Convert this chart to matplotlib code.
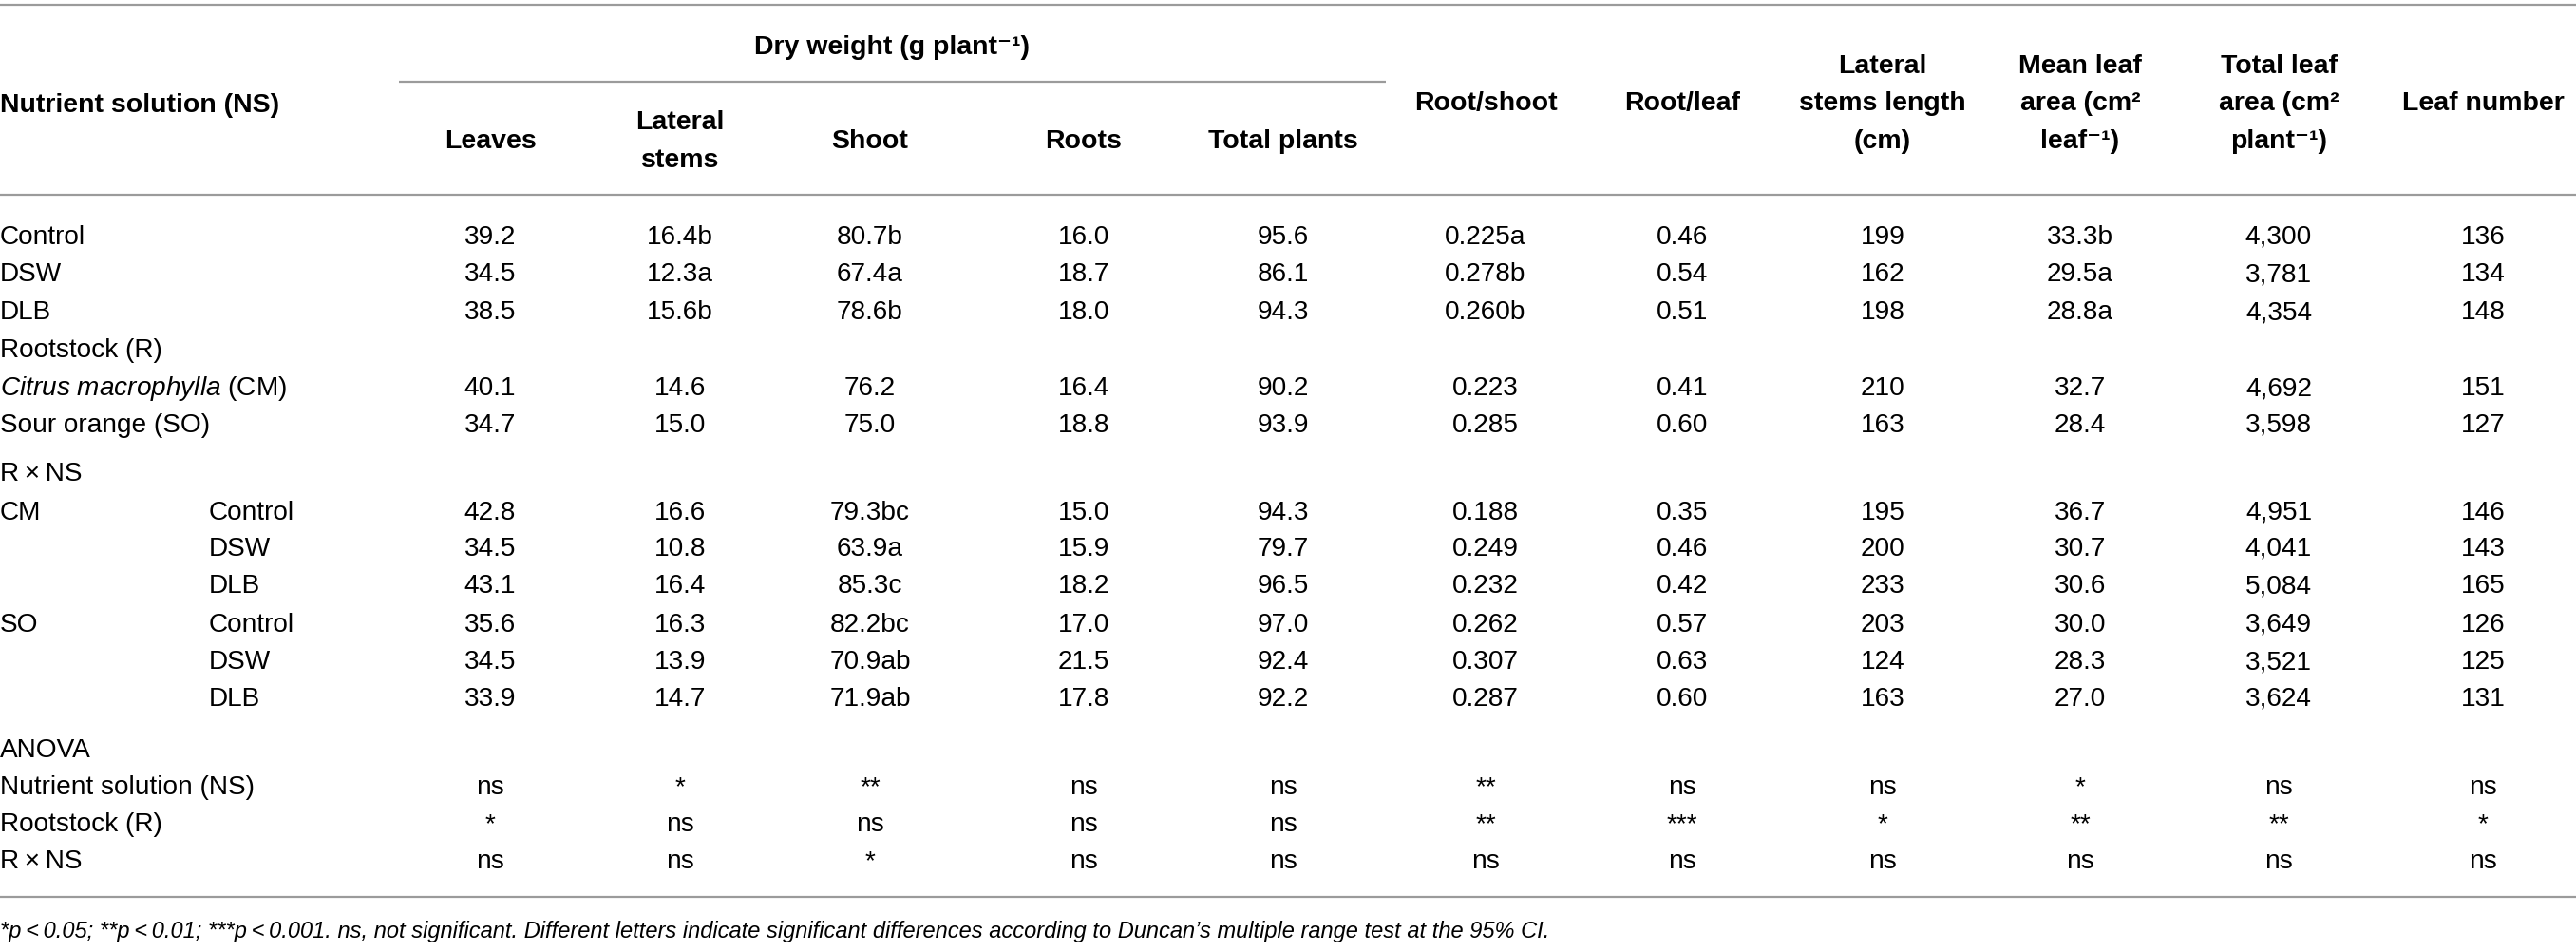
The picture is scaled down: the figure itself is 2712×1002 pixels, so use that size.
import matplotlib
matplotlib.use("Agg")
import matplotlib.pyplot as plt

plt.rcParams['font.family'] = ['Liberation Sans', 'DejaVu Sans']
plt.rcParams['mathtext.fontset'] = 'custom'
plt.rcParams['mathtext.rm'] = 'Liberation Sans'
plt.rcParams['mathtext.it'] = 'Liberation Sans:italic'
plt.rcParams['mathtext.bf'] = 'Liberation Sans:bold'

# ---------------- data ----------------
group_header = "Dry weight (g plant\u207b\u00b9)"
row_header = "Nutrient solution (NS)"
col_headers = [
    ["Leaves"],
    ["Lateral", "stems"],
    ["Shoot"],
    ["Roots"],
    ["Total plants"],
    ["Root/shoot"],
    ["Root/leaf"],
    ["Lateral", "stems length", "(cm)"],
    ["Mean leaf", "area (cm\u00b2", "leaf\u207b\u00b9)"],
    ["Total leaf", "area (cm\u00b2", "plant\u207b\u00b9)"],
    ["Leaf number"],
]

row_labels = ["Control", "DSW", "DLB", "Rootstock (R)",
              r"$\it{Citrus\ macrophylla}$ (CM)", "Sour orange (SO)",
              "R\u2009\u00d7\u2009NS", "CM", "", "", "SO", "", "",
              "ANOVA", "Nutrient solution (NS)", "Rootstock (R)",
              "R\u2009\u00d7\u2009NS"]
row_sublabels = ["", "", "", "", "", "", "",
                 "Control", "DSW", "DLB", "Control", "DSW", "DLB",
                 "", "", "", ""]

leaves   = ["39.2", "34.5", "38.5", "", "40.1", "34.7", "", "42.8", "34.5", "43.1", "35.6", "34.5", "33.9", "", "ns", "*", "ns"]
lat_stem = ["16.4b", "12.3a", "15.6b", "", "14.6", "15.0", "", "16.6", "10.8", "16.4", "16.3", "13.9", "14.7", "", "*", "ns", "ns"]
shoot    = ["80.7b", "67.4a", "78.6b", "", "76.2", "75.0", "", "79.3bc", "63.9a", "85.3c", "82.2bc", "70.9ab", "71.9ab", "", "**", "ns", "*"]
roots    = ["16.0", "18.7", "18.0", "", "16.4", "18.8", "", "15.0", "15.9", "18.2", "17.0", "21.5", "17.8", "", "ns", "ns", "ns"]
total    = ["95.6", "86.1", "94.3", "", "90.2", "93.9", "", "94.3", "79.7", "96.5", "97.0", "92.4", "92.2", "", "ns", "ns", "ns"]
root_sh  = ["0.225a", "0.278b", "0.260b", "", "0.223", "0.285", "", "0.188", "0.249", "0.232", "0.262", "0.307", "0.287", "", "**", "**", "ns"]
root_lf  = ["0.46", "0.54", "0.51", "", "0.41", "0.60", "", "0.35", "0.46", "0.42", "0.57", "0.63", "0.60", "", "ns", "***", "ns"]
lat_len  = ["199", "162", "198", "", "210", "163", "", "195", "200", "233", "203", "124", "163", "", "ns", "*", "ns"]
mean_la  = ["33.3b", "29.5a", "28.8a", "", "32.7", "28.4", "", "36.7", "30.7", "30.6", "30.0", "28.3", "27.0", "", "*", "**", "ns"]
total_la = ["4,300", "3,781", "4,354", "", "4,692", "3,598", "", "4,951", "4,041", "5,084", "3,649", "3,521", "3,624", "", "ns", "**", "ns"]
leaf_num = ["136", "134", "148", "", "151", "127", "", "146", "143", "165", "126", "125", "131", "", "ns", "*", "ns"]

footnote = ("*p\u2009<\u20090.05; **p\u2009<\u20090.01; ***p\u2009<\u20090.001. ns, not significant. "
            "Different letters indicate significant differences according to Duncan\u2019s "
            "multiple range test at the 95% CI.")

columns = [leaves, lat_stem, shoot, roots, total, root_sh, root_lf,
           lat_len, mean_la, total_la, leaf_num]

# ---------------- layout ----------------
W, H = 2712, 1002
DPI = 100
fig = plt.figure(figsize=(W / DPI, H / DPI), dpi=DPI)
ax = fig.add_axes([0, 0, 1, 1])
ax.set_xlim(0, W)
ax.set_ylim(H, 0)
ax.axis('off')

FS = 20.2
FS_HEAD = 20.5
FS_FOOT = 17
col_x = [516, 716, 916, 1141, 1351, 1564, 1771, 1982, 2190, 2399, 2614]
row_y = [247, 286, 326, 366, 406, 445, 496, 537, 575, 614, 655, 694, 733,
         787, 826, 865, 904]
sub_x = 220
half_cap = 10
line_kw = dict(color='#9b9b9b', lw=1.6, solid_capstyle='butt')

# rules
ax.plot([0, W], [5, 5], **line_kw)
ax.plot([420, 1459], [86, 86], **line_kw)
ax.plot([0, W], [205, 205], **line_kw)
ax.plot([0, W], [944, 944], **line_kw)

# header
ax.text(939, 47 + half_cap, group_header, ha='center', va='baseline',
        fontsize=FS_HEAD, fontweight='bold')
ax.text(0, 108 + half_cap, row_header, ha='left', va='baseline',
        fontsize=FS_HEAD, fontweight='bold')
line_pos = {1: [146], 2: [126, 166], 3: [67, 106, 146]}
for i, lines in enumerate(col_headers):
    n = len(lines)
    ys = line_pos[n]
    if n == 1 and i in (5, 6, 10):
        ys = [106]
    for ln, yy in zip(lines, ys):
        ax.text(col_x[i], yy + half_cap, ln, ha='center', va='baseline',
                fontsize=FS_HEAD, fontweight='bold')

# body
for r, y in enumerate(row_y):
    if row_labels[r]:
        ax.text(0, y + half_cap, row_labels[r], ha='left', va='baseline', fontsize=FS)
    if row_sublabels[r]:
        ax.text(sub_x, y + half_cap, row_sublabels[r], ha='left', va='baseline', fontsize=FS)
    for c, col in enumerate(columns):
        if col[r]:
            ax.text(col_x[c], y + half_cap, col[r], ha='center', va='baseline', fontsize=FS)

ax.text(0, 979 + 8, footnote, ha='left', va='baseline', fontsize=FS_FOOT,
        fontstyle='italic')

fig.savefig("out.png", dpi=DPI, facecolor='white')
